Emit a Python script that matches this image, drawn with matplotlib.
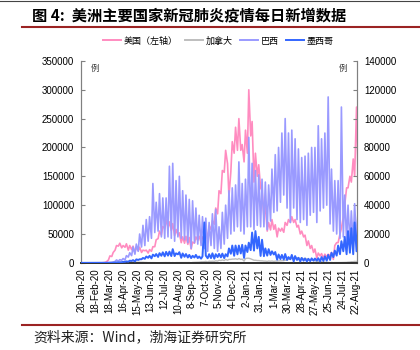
import numpy as np
import pandas as pd
import matplotlib
matplotlib.use("Agg")
import matplotlib.pyplot as plt
from matplotlib.lines import Line2D

CJK = ["Noto Sans CJK SC", "DejaVu Sans"]
plt.rcParams["font.family"] = ["Liberation Sans", "DejaVu Sans"]

# weekly samples: Monday value and Thursday value, weeks starting 2020-01-20
week_start = "2020-01-20"

us_mon = [0, 0, 0, 0, 0, 0, 100, 800, 5000, 11000, 22000, 29000, 26000, 27000, 22000, 23000,
          18000, 21000, 18000, 21000, 17000, 20000, 28000, 42000, 48000, 60000, 61000, 56000,
          47000, 48000, 35000, 34000, 32000, 24000, 34000, 39000, 36000, 40000, 42000, 58000,
          67000, 85000, 120000, 157000, 172000, 158000, 190000, 195000, 195000, 175000, 190000,
          220000, 140000, 150000, 130000, 80000, 55000, 57000, 58000, 45000, 55000, 53000, 65000,
          70000, 70000, 62000, 50000, 45000, 30000, 25000, 18000, 8000, 12000, 8000, 10000,
          12000, 6000, 35000, 50000, 80000, 130000, 150000, 180000, 270000]
us_thu = [0, 0, 0, 0, 0, 10, 300, 2000, 12000, 18000, 30000, 34000, 30000, 33000, 30000, 29000,
          27000, 27000, 22000, 22000, 23000, 28000, 40000, 55000, 63000, 75000, 71000, 68000,
          58000, 52000, 45000, 46000, 44000, 36000, 45000, 46000, 45000, 57000, 64000, 73000,
          95000, 125000, 160000, 195000, 115000, 210000, 235000, 250000, 205000, 230000, 300000,
          245000, 190000, 170000, 125000, 100000, 70000, 75000, 66000, 60000, 60000, 70000, 75000,
          80000, 75000, 65000, 55000, 48000, 38000, 30000, 24000, 17000, 16000, 15000, 15000,
          18000, 30000, 35000, 60000, 100000, 130000, 140000, 150000, 160000]

canada_mon = [0, 0, 0, 0, 0, 0, 0, 20, 150, 600, 1200, 1300, 1300, 1300, 1500, 1200,
              1100, 1000, 900, 700, 400, 300, 300, 250, 200, 300, 400, 0,
              0, 400, 300, 400, 500, 0, 800, 1200, 1800, 2000, 1500, 2500,
              2500, 3000, 4000, 4000, 4500, 6000, 6500, 6000, 6000, 3000, 8000,
              7000, 4500, 4000, 3500, 3000, 2500, 2800, 2500, 3000, 3500, 3800, 5000,
              6500, 8000, 8000, 7500, 7000, 6500, 5000, 4000, 2500, 1500, 1200, 700,
              500, 300, 400, 500, 700, 900, 1500, 2000, 2200]
canada_thu = [0, 0, 0, 0, 0, 0, 0, 50, 400, 1000, 1500, 1400, 1800, 1700, 1600, 1500,
              1100, 1100, 1000, 700, 500, 400, 350, 300, 400, 500, 550, 450,
              400, 500, 450, 500, 600, 700, 1000, 1200, 1800, 2500, 2800, 2800,
              3500, 4500, 5000, 6000, 6000, 6500, 7000, 7500, 6500, 7500, 8000,
              6000, 4500, 4000, 3500, 3000, 3200, 3200, 3000, 3300, 3700, 4500, 6000,
              9000, 9500, 9000, 8000, 8000, 6500, 5000, 3500, 2500, 1800, 1200, 800,
              600, 500, 500, 600, 900, 1300, 2000, 2500, 3000]

brazil_mon = [0, 0, 0, 0, 0, 0, 0, 10, 100, 300, 1000, 1200, 1800, 2000, 4000, 5000,
              6000, 8000, 11000, 12000, 15000, 17000, 21000, 22000, 18000, 17000, 18000, 17000,
              15000, 18000, 17000, 16000, 14000, 10000, 14000, 13000, 12000, 10000, 8000, 12000,
              10000, 8000, 10000, 13000, 17000, 20000, 22000, 25000, 22000, 20000, 25000,
              25000, 23000, 26000, 25000, 25000, 23000, 29000, 35000, 36000, 42000, 47000, 38000,
              28000, 38000, 30000, 28000, 30000, 26000, 33000, 35000, 28000, 36000, 38000, 40000,
              27000, 22000, 20000, 17000, 18000, 15000, 14000, 13000, 14000]
brazil_thu = [0, 0, 0, 0, 0, 0, 0, 30, 200, 500, 2000, 2200, 3000, 5000, 7000, 11000,
              13000, 20000, 26000, 30000, 32000, 55000, 42000, 48000, 45000, 45000, 67000, 69000,
              57000, 60000, 50000, 47000, 44000, 43000, 38000, 33000, 32000, 31000, 28000, 34000,
              37000, 25000, 35000, 40000, 50000, 52000, 54000, 70000, 55000, 58000, 87000,
              69000, 64000, 61000, 58000, 56000, 54000, 65000, 75000, 80000, 90000, 100000, 90000,
              92000, 86000, 79000, 73000, 74000, 76000, 80000, 80000, 95000, 86000, 90000, 115000,
              65000, 57000, 57000, 108000, 47000, 40000, 36000, 41000, 35000]

mexico_mon = [0, 0, 0, 0, 0, 0, 0, 0, 0, 50, 150, 300, 400, 700, 800, 1300,
              1000, 2000, 2500, 2800, 3500, 3100, 4600, 4100, 4900, 4500, 5000, 4700,
              4700, 5900, 3500, 4200, 3700, 3300, 3700, 3300, 2900, 28000, 3200, 3300,
              2900, 4000, 3800, 3300, 4500, 6300, 4900, 5900, 6500, 3400, 7500,
              8800, 8500, 10000, 4800, 4600, 5000, 5500, 5800, 2200, 2600, 2300, 2000,
              2500, 1000, 2000, 1000, 1500, 1000, 1200, 1500, 1500, 1000, 1300, 1500,
              2000, 4000, 5000, 6000, 8000, 6000, 7000, 6000, 8000]
mexico_thu = [0, 0, 0, 0, 0, 0, 0, 0, 20, 100, 250, 400, 700, 1000, 1500, 1900,
              2400, 2500, 3400, 4400, 4900, 5700, 6100, 6700, 7300, 7600, 7800, 9500,
              6600, 7400, 6500, 6100, 5500, 4900, 5500, 4400, 4500, 5000, 6000, 6600,
              6000, 6200, 6400, 6000, 10000, 12000, 12000, 12000, 12500, 12000, 14000,
              21000, 22000, 18000, 16000, 10000, 9500, 8000, 7500, 5800, 5500, 6100, 4000,
              5500, 4700, 3500, 3400, 3000, 2800, 3100, 3000, 3200, 4000, 4500, 5500,
              7000, 8500, 12000, 15000, 18000, 22000, 24000, 28000, 25000]

tick_start = "2020-01-20"
tick_end = "2021-08-22"


def zigzag(mon, thu):
    weeks = pd.date_range(week_start, periods=len(mon), freq="7D")
    dates = np.column_stack([weeks.values, (weeks + pd.Timedelta(days=3)).values]).ravel()
    vals = np.column_stack([mon, thu]).ravel()
    return pd.to_datetime(dates), vals


fig = plt.figure(figsize=(4.2, 3.5), dpi=100)
ax = fig.add_axes([0.193, 0.249, 0.657, 0.577])
ax2 = ax.twinx()

d, v = zigzag(us_mon, us_thu)
ax.plot(d, v, color="#FF8CC0", lw=1.2, zorder=3)
d, v = zigzag(canada_mon, canada_thu)
ax.plot(d, v, color="#BEBEBE", lw=1.0, zorder=2)
d, v = zigzag(brazil_mon, brazil_thu)
ax2.plot(d, v, color="#9A9AFF", lw=1.2, zorder=2)
d, v = zigzag(mexico_mon, mexico_thu)
ax2.plot(d, v, color="#3366FF", lw=1.4, zorder=3)

ax.set_xlim(pd.Timestamp("2020-01-18"), pd.Timestamp("2021-08-24"))
ax.set_ylim(0, 350000)
ax2.set_ylim(0, 140000)
ax.set_yticks(np.arange(0, 350001, 50000))
ax2.set_yticks(np.arange(0, 140001, 20000))

ticks = pd.date_range(tick_start, tick_end, freq="29D")
ax.set_xticks(ticks)
ax.set_xticklabels([f"{t.day}-{t:%b-%y}" for t in ticks], rotation=90, fontsize=7)
ax.tick_params(axis="x", length=0, pad=4)
ax.tick_params(axis="y", direction="in", length=3, labelsize=7, color="#808080", pad=5)
ax2.tick_params(axis="y", direction="in", length=3, labelsize=7, color="#808080", pad=5)

for a in (ax, ax2):
    a.spines["top"].set_visible(False)
    a.spines["left"].set_color("#808080")
    a.spines["right"].set_color("#808080")
    a.spines["bottom"].set_color("#333333")
    a.spines["bottom"].set_linewidth(1.3)

ax.text(0.035, 0.985, "例", transform=ax.transAxes, fontsize=6, family=CJK, va="top", color="#333333")
ax2.text(0.965, 0.985, "例", transform=ax.transAxes, fontsize=6, family=CJK, va="top", ha="right",
         color="#333333")

handles = [
    Line2D([], [], color="#FF8CC0", lw=1.4),
    Line2D([], [], color="#BEBEBE", lw=1.4),
    Line2D([], [], color="#9A9AFF", lw=1.4),
    Line2D([], [], color="#3366FF", lw=1.4),
]
labels = ["美国（左轴）", "加拿大", "巴西", "墨西哥"]
fig.legend(handles, labels, loc="center", bbox_to_anchor=(0.52, 0.883), ncol=4, frameon=False,
           prop={"family": CJK, "size": 6.5}, handlelength=2.0, handletextpad=0.3, columnspacing=0.8)

fig.text(0.076, 0.957, "图 4:  美洲主要国家新冠肺炎疫情每日新增数据", fontsize=11, fontweight="bold",
         family=CJK, va="center", ha="left")
fig.text(0.079, 0.037, "资料来源：Wind，渤海证券研究所", fontsize=10, style="italic",
         family=CJK, va="center", ha="left", color="#222222")

fig.add_artist(Line2D([0.053, 1.0], [0.923, 0.923], color="#9B2323", lw=1.5, transform=fig.transFigure))
fig.add_artist(Line2D([0.053, 1.0], [0.071, 0.071], color="#9B2323", lw=1.5, transform=fig.transFigure))
fig.add_artist(Line2D([0.0, 1.0], [0.998, 0.998], color="#444444", lw=0.8, transform=fig.transFigure))

fig.savefig("out.png", dpi=100)
